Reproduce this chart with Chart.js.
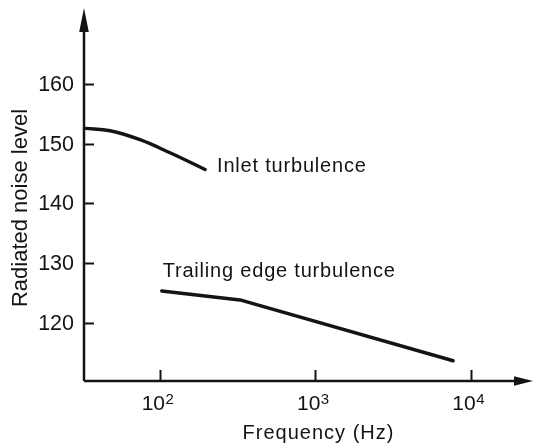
<!DOCTYPE html>
<html>
<head>
<meta charset="utf-8">
<script src="https://cdn.jsdelivr.net/npm/chart.js@4"></script>
<style>
  html, body { margin: 0; background: #fff; }
  canvas { display: block; }
</style>
</head>
<body>
<canvas id="noiseChart" width="535" height="447"></canvas>
<script>
// radiated noise level against frequency (log axis)
const inletFreq = [32.9, 47.7, 74.3, 116, 195];
const inletLevel = [152.6, 152.2, 150.7, 148.5, 145.7];
const trailingFreq = [102.5, 327, 7710];
const trailingLevel = [125.3, 123.8, 113.6];

const levelTicks = [120, 130, 140, 150, 160];
const freqTicks = [100, 1000, 10000];
const freqTickExp = ['2', '3', '4'];

const seriesNames = ['Inlet turbulence', 'Trailing edge turbulence'];
const xTitle = 'Frequency (Hz)';
const yTitle = 'Radiated noise level';

const INK = '#141414';
const FONT = '"Liberation Sans", Arial, Helvetica, sans-serif';

function toPoints(xs, ys) {
    return xs.map((x, i) => ({x: x, y: ys[i]}));
}

function textAt(ctx, str, x, y, size, align, spacing) {
    ctx.font = size + 'px ' + FONT;
    ctx.textAlign = align;
    ctx.letterSpacing = (spacing || 0) + 'px';
    ctx.fillText(str, x, y);
    ctx.letterSpacing = '0px';
}

// hand-drawn style axes: arrows, inward ticks, labels
const axesPlugin = {
    id: 'arrowAxes',
    beforeDatasetsDraw(chart) {
        const ctx = chart.ctx;
        const area = chart.chartArea;
        const xs = chart.scales.x;
        const ys = chart.scales.y;
        const x0 = area.left, y0 = area.bottom;

        ctx.save();
        ctx.strokeStyle = INK;
        ctx.fillStyle = INK;
        ctx.lineWidth = 2.5;

        // axis lines
        ctx.beginPath();
        ctx.moveTo(x0, y0);
        ctx.lineTo(x0, area.top + 20);
        ctx.moveTo(x0, y0);
        ctx.lineTo(area.right - 16, y0);
        ctx.stroke();

        // arrow heads
        ctx.beginPath();
        ctx.moveTo(x0, area.top);
        ctx.lineTo(x0 - 4.8, area.top + 24);
        ctx.lineTo(x0 + 4.8, area.top + 24);
        ctx.closePath();
        ctx.fill();
        ctx.beginPath();
        ctx.moveTo(area.right, y0);
        ctx.lineTo(area.right - 19, y0 - 4.8);
        ctx.lineTo(area.right - 19, y0 + 4.8);
        ctx.closePath();
        ctx.fill();

        // ticks
        ctx.lineWidth = 2;
        ctx.beginPath();
        levelTicks.forEach(v => {
            const py = Math.round(ys.getPixelForValue(v)) + 0.5;
            ctx.moveTo(x0, py);
            ctx.lineTo(x0 + 10, py);
        });
        freqTicks.forEach(v => {
            const px = Math.round(xs.getPixelForValue(v)) + 0.5;
            ctx.moveTo(px, y0);
            ctx.lineTo(px, y0 - 11);
        });
        ctx.stroke();

        // tick labels
        ctx.textBaseline = 'middle';
        levelTicks.forEach(v => {
            textAt(ctx, String(v), x0 - 10, ys.getPixelForValue(v) + 1, 21.5, 'right');
        });
        ctx.textBaseline = 'alphabetic';
        freqTicks.forEach((v, i) => {
            const px = xs.getPixelForValue(v);
            textAt(ctx, '10', px + 5, y0 + 28.5, 21, 'right');
            textAt(ctx, freqTickExp[i], px + 5.5, y0 + 22.5, 15, 'left');
        });

        // axis titles
        textAt(ctx, xTitle, (x0 + area.right) / 2 + 10, y0 + 58, 20, 'center', 1);
        ctx.translate(27, 208);
        ctx.rotate(-Math.PI / 2);
        textAt(ctx, yTitle, 0, 0, 22, 'center', 0);
        ctx.restore();
    },
    afterDatasetsDraw(chart) {
        const ctx = chart.ctx;
        const xs = chart.scales.x;
        const ys = chart.scales.y;
        ctx.save();
        ctx.fillStyle = INK;
        ctx.textBaseline = 'alphabetic';
        // inlet label sits after the curve's end, trailing label above its start
        const n = inletFreq.length - 1;
        textAt(ctx, seriesNames[0],
            xs.getPixelForValue(inletFreq[n]) + 12,
            ys.getPixelForValue(inletLevel[n]) + 3, 20, 'left', 0.8);
        textAt(ctx, seriesNames[1],
            xs.getPixelForValue(trailingFreq[0]) + 1,
            ys.getPixelForValue(trailingLevel[0]) - 14, 20, 'left', 0.8);
        ctx.restore();
    }
};

new Chart(document.getElementById('noiseChart').getContext('2d'), {
    type: 'scatter',
    data: {
        datasets: [{
            label: seriesNames[0],
            data: toPoints(inletFreq, inletLevel),
            showLine: true,
            tension: 0.4,
            borderColor: INK,
            borderWidth: 3.4,
            borderCapStyle: 'round',
            pointRadius: 0
        }, {
            label: seriesNames[1],
            data: toPoints(trailingFreq, trailingLevel),
            showLine: true,
            tension: 0,
            borderColor: INK,
            borderWidth: 3.4,
            borderCapStyle: 'round',
            borderJoinStyle: 'round',
            pointRadius: 0
        }]
    },
    options: {
        responsive: false,
        animation: false,
        layout: {padding: {left: 84, right: 2, top: 8, bottom: 66}},
        plugins: {
            legend: {display: false},
            tooltip: {enabled: false}
        },
        scales: {
            x: {type: 'logarithmic', min: 32.4, max: 25180, display: false},
            y: {type: 'linear', min: 110.2, max: 172.8, display: false}
        }
    },
    plugins: [axesPlugin]
});
</script>
</body>
</html>
